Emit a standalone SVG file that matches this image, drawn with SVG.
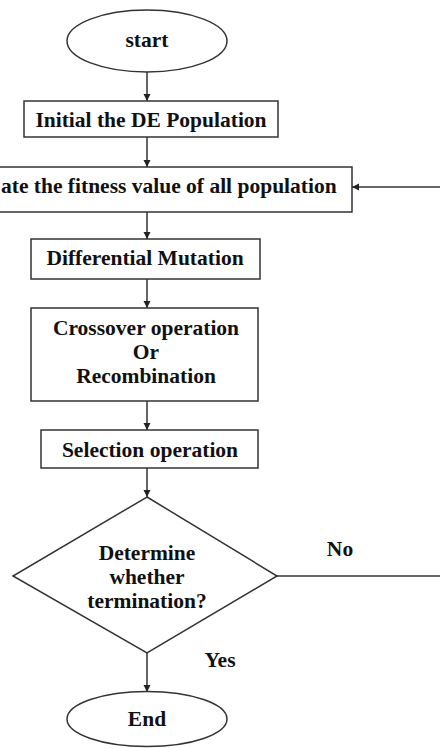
<svg xmlns="http://www.w3.org/2000/svg" width="440" height="748" viewBox="0 0 440 748">
<defs>
<style>
.n{fill:#fff;stroke:#333;stroke-width:1.5}
.t{font-family:"Liberation Serif","Times New Roman",serif;font-weight:bold;font-size:21.5px;fill:#111;text-anchor:middle}
.c{fill:none;stroke:#333;stroke-width:1.5}
</style>
<marker id="ah" viewBox="0 0 10 10" refX="10" refY="5" markerWidth="7" markerHeight="8" markerUnits="userSpaceOnUse" orient="auto">
<path d="M0,0 L10,5 L0,10 z" fill="#222"/>
</marker>
</defs>
<rect width="440" height="748" fill="#fff"/>
<g id="connectors">
<line class="c" x1="147" y1="72" x2="147" y2="101" marker-end="url(#ah)"/>
<line class="c" x1="147" y1="137" x2="147" y2="167" marker-end="url(#ah)"/>
<line class="c" x1="147" y1="212" x2="147" y2="239" marker-end="url(#ah)"/>
<line class="c" x1="147" y1="279" x2="147" y2="308" marker-end="url(#ah)"/>
<line class="c" x1="147" y1="401" x2="147" y2="430" marker-end="url(#ah)"/>
<line class="c" x1="147" y1="468" x2="147" y2="497" marker-end="url(#ah)"/>
<line class="c" x1="147" y1="653" x2="147" y2="692" marker-end="url(#ah)"/>
<line class="c" x1="277" y1="576" x2="440" y2="576"/>
<line class="c" x1="440" y1="187" x2="352" y2="187" marker-end="url(#ah)"/>
<text class="t" x="340" y="556">No</text>
<text class="t" x="220" y="667">Yes</text>
</g>
<g id="start">
<ellipse class="n" cx="147" cy="41" rx="80" ry="31"/>
<text class="t" x="147" y="47">start</text>
</g>
<g id="init">
<rect class="n" x="24" y="101" width="254" height="36"/>
<text class="t" x="151" y="127">Initial the DE Population</text>
</g>
<g id="evaluate">
<rect class="n" x="-60" y="167" width="412" height="45"/>
<text class="t" x="1" y="193" style="text-anchor:start">ate the fitness value of all population</text>
</g>
<g id="mutation">
<rect class="n" x="31" y="239" width="229" height="40"/>
<text class="t" x="145" y="265">Differential Mutation</text>
</g>
<g id="crossover">
<rect class="n" x="31" y="308" width="227" height="93"/>
<text class="t" x="146" y="335">Crossover operation</text>
<text class="t" x="146" y="359">Or</text>
<text class="t" x="146" y="383">Recombination</text>
</g>
<g id="selection">
<rect class="n" x="41" y="430" width="217" height="38"/>
<text class="t" x="150" y="457">Selection operation</text>
</g>
<g id="decision">
<polygon class="n" points="147,497 277,576 147,653 13,576"/>
<text class="t" x="147" y="560">Determine</text>
<text class="t" x="147" y="584">whether</text>
<text class="t" x="147" y="608">termination?</text>
</g>
<g id="end">
<ellipse class="n" cx="147" cy="719" rx="80" ry="27.5"/>
<text class="t" x="147" y="726">End</text>
</g>
</svg>
